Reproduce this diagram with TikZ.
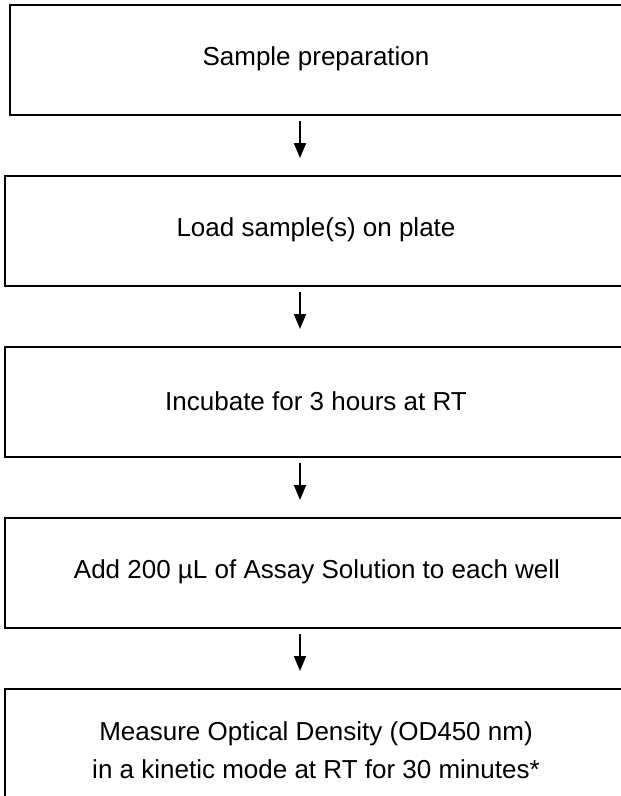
\documentclass[tikz,border=0pt]{standalone}
\usepackage{fontspec}
\setmainfont{Liberation Sans}
\usetikzlibrary{arrows.meta}
\begin{document}
\begin{tikzpicture}[x=1bp,y=-1bp,
  box/.style={draw=black, line width=2bp, minimum width=700bp, minimum height=110bp, inner sep=0pt, anchor=north west},
  lbl/.style={font=\fontsize{26bp}{38bp}\selectfont, align=center, inner sep=0pt},
  arr/.style={line width=2bp, -{Triangle[length=15bp,width=12bp]}}]
\useasboundingbox (0,0) rectangle (621,796);
\clip (0,0) rectangle (621,796);
\fill[white] (0,0) rectangle (621,796);
\coordinate (ax) at (300,0);
\node[box] (b1) at (9,4) {};
\node[box] (b2) at (4,175) {};
\node[box] (b3) at (4,346) {};
\node[box] (b4) at (4,517) {};
\node[box] (b5) at (4,688) {};
\node[lbl] (t1) at (316,59) {Sample preparation};
\node[lbl] (t2) at (316,230) {Load sample(s) on plate};
\node[lbl] (t3) at (316,401) {Incubate for 3 hours at RT};
\node[lbl] (t4) at (317,572) {Add 200 µL of Assay Solution to each well};
\node[lbl] (t5) at (316,750) {Measure Optical Density (OD450 nm)\\in a kinetic mode at RT for 30 minutes*};
\draw[arr] ([yshift=-5bp]b1.south -| ax) -- ([yshift=17bp]b2.north -| ax);
\draw[arr] ([yshift=-5bp]b2.south -| ax) -- ([yshift=17bp]b3.north -| ax);
\draw[arr] ([yshift=-5bp]b3.south -| ax) -- ([yshift=17bp]b4.north -| ax);
\draw[arr] ([yshift=-5bp]b4.south -| ax) -- ([yshift=17bp]b5.north -| ax);
\end{tikzpicture}
\end{document}
